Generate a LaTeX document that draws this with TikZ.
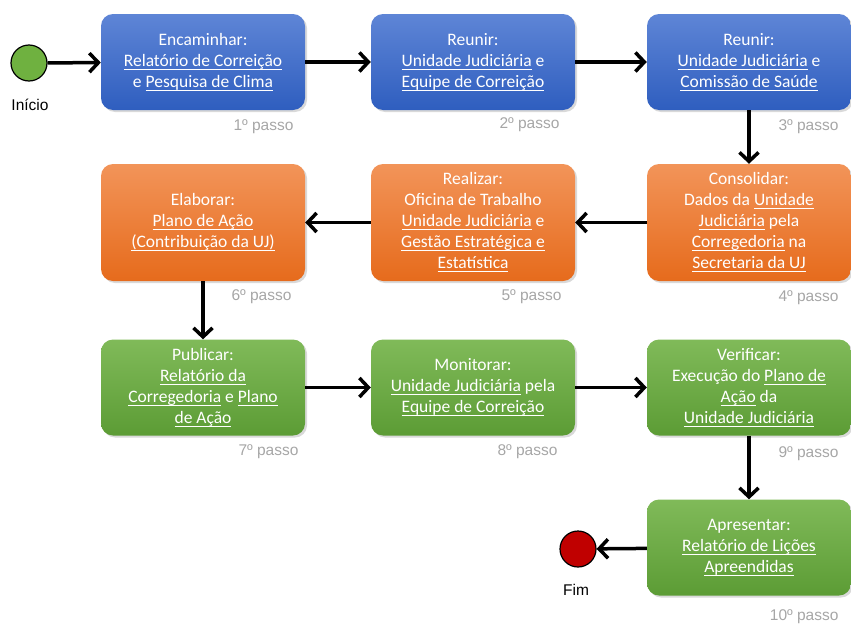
\documentclass[tikz,border=0pt]{standalone}
\usepackage{fontspec}
\setmainfont{Carlito}
\newfontfamily\arialfont{Liberation Sans}
\usetikzlibrary{shadows, arrows.meta}
\definecolor{bluetop}{HTML}{5E85D6}
\definecolor{bluebot}{HTML}{2F5EBF}
\definecolor{orangetop}{HTML}{F29459}
\definecolor{orangebot}{HTML}{E66B1C}
\definecolor{greentop}{HTML}{80BA59}
\definecolor{greenbot}{HTML}{5C9C35}
\definecolor{stepgray}{HTML}{A6A6A6}
\definecolor{startgreen}{HTML}{6FB140}
\definecolor{endred}{HTML}{C00000}
\tikzset{
    box/.style = {rounded corners=12pt, minimum width=204pt, minimum height=96pt,
        text=white, align=center, font=\fontsize{17.5}{21}\selectfont,
        drop shadow={opacity=0.3, shadow xshift=2pt, shadow yshift=-2pt}},
    bluebox/.style = {box, top color=bluetop, bottom color=bluebot},
    orangebox/.style = {box, top color=orangetop, bottom color=orangebot, minimum height=117pt},
    greenbox/.style = {box, top color=greentop, bottom color=greenbot},
    passo/.style = {anchor=east, text=stepgray, font=\arialfont\fontsize{15.5}{17}\selectfont},
    event/.style = {circle, draw=black, line width=1.2pt, minimum size=36pt, inner sep=0pt},
    rotulo/.style = {font=\arialfont\fontsize{15.5}{17}\selectfont},
    flow/.style = {draw, line width=3.5pt, -{Straight Barb[length=9pt, width=19pt]}},
}
\newsavebox\ulbox
\newcommand{\ul}[1]{\sbox\ulbox{#1}\rlap{\rule[-3.5pt]{\wd\ulbox}{1.1pt}}\usebox\ulbox}

\begin{document}
\begin{tikzpicture}[x=1pt, y=-1pt]
    \useasboundingbox (0, 0) rectangle (851, 624);

    \node[event, fill=startgreen] (ini) at (29, 63) {};
    \node[rotulo] (tini) at (30, 105) {Início};

    \node[bluebox] (enc) at (203, 62) {Encaminhar:\\ \ul{Relatório de Correição}\\ e \ul{Pesquisa de Clima}};
    \node[bluebox] (reu1) at (473, 62) {Reunir:\\ \ul{Unidade Judiciária} e\\ \ul{Equipe de Correição}};
    \node[bluebox] (reu2) at (749, 62) {Reunir:\\ \ul{Unidade Judiciária} e\\ \ul{Comissão de Saúde}};

    \node[orangebox] (elab) at (203, 222.5) {Elaborar:\\ \ul{Plano de Ação}\\ \ul{(Contribuição da UJ)}};
    \node[orangebox] (real) at (473, 222.5) {Realizar:\\ Oficina de Trabalho\\ \ul{Unidade Judiciária} e\\ \ul{Gestão Estratégica e}\\ \ul{Estatística}};
    \node[orangebox] (cons) at (749, 222.5) {Consolidar:\\ Dados da \ul{Unidade}\\ \ul{Judiciária} pela\\ \ul{Corregedoria} na\\ \ul{Secretaria da UJ}};

    \node[greenbox] (publ) at (203, 387.5) {Publicar:\\ \ul{Relatório da}\\ \ul{Corregedoria} e \ul{Plano}\\ \ul{de Ação}};
    \node[greenbox] (mon) at (473, 387.5) {Monitorar:\\ \ul{Unidade Judiciária} pela\\ \ul{Equipe de Correição}};
    \node[greenbox] (ver) at (749, 387.5) {Verificar:\\ Execução do \ul{Plano de}\\ \ul{Ação} da\\ \ul{Unidade Judiciária}};

    \node[greenbox] (apr) at (749, 547.5) {Apresentar:\\ \ul{Relatório de Lições}\\ \ul{Apreendidas}};

    \node[event, fill=endred] (fim) at (578, 549) {};
    \node[rotulo] (tfim) at (576, 590) {Fim};

    \node[passo] (p1) at (297, 127) {1º passo};
    \node[passo] (p2) at (563, 125) {2º passo};
    \node[passo] (p3) at (842, 127) {3º passo};
    \node[passo] (p4) at (842, 298) {4º passo};
    \node[passo] (p5) at (565, 297) {5º passo};
    \node[passo] (p6) at (295, 297) {6º passo};
    \node[passo] (p7) at (302, 452) {7º passo};
    \node[passo] (p8) at (561, 452) {8º passo};
    \node[passo] (p9) at (842, 454) {9º passo};
    \node[passo] (p10) at (842, 617) {10º passo};

    \draw[flow] (ini) -- (enc);
    \draw[flow] (enc) -- (reu1);
    \draw[flow] (reu1) -- (reu2);
    \draw[flow] (reu2) -- (cons);
    \draw[flow] (cons) -- (real);
    \draw[flow] (real) -- (elab);
    \draw[flow] (elab) -- (publ);
    \draw[flow] (publ) -- (mon);
    \draw[flow] (mon) -- (ver);
    \draw[flow] (ver) -- (apr);
    \draw[flow] (apr) -- (fim);
\end{tikzpicture}
\end{document}
